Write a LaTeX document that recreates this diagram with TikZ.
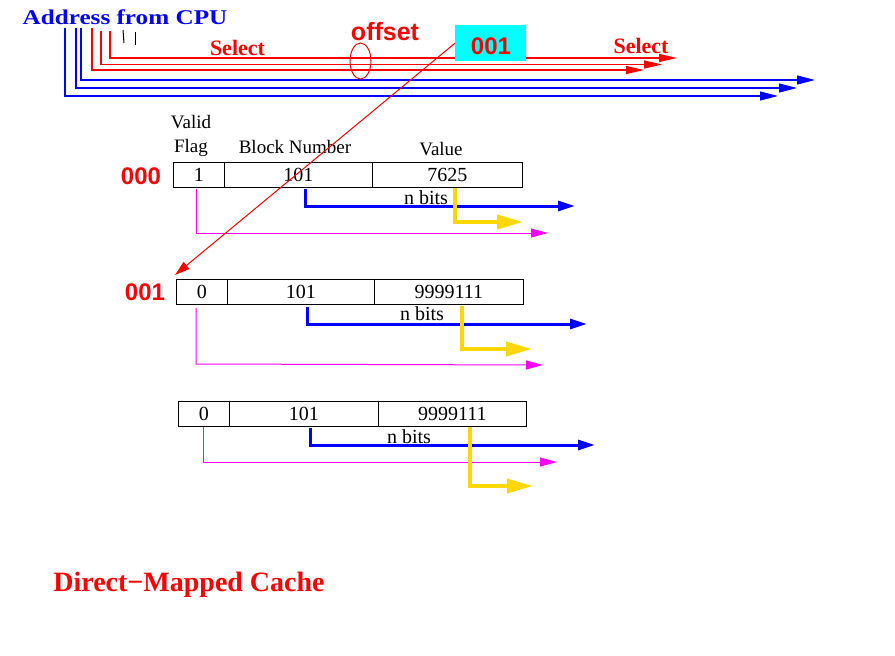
\documentclass[tikz,border=0pt]{standalone}
\usepackage{fontspec}
\setmainfont{Liberation Serif}
\newfontfamily\hvf{Liberation Sans}
\usetikzlibrary{arrows.meta,shapes.geometric}
\definecolor{xred}{RGB}{255,0,0}
\definecolor{xblue}{RGB}{0,0,255}
\definecolor{xmag}{RGB}{255,0,255}
\definecolor{xgold}{RGB}{255,215,0}
\definecolor{xcyan}{RGB}{0,255,255}
\begin{document}
\begin{tikzpicture}[x=1pt,y=-1pt,
  cell/.style={draw=black,line width=0.8pt,minimum height=25pt,inner sep=0pt,anchor=north west,font=\fontsize{20}{20}\selectfont},
  lbl/.style={anchor=base,inner sep=0pt,font=\fontsize{19}{19}\selectfont},
  boldserif/.style={anchor=base,inner sep=0pt,text=xred,font=\fontsize{22}{22}\selectfont\bfseries},
  sansred/.style={anchor=base,inner sep=0pt,text=xred,font=\fontsize{25}{25}\selectfont\hvf\bfseries},
  topred/.style={draw=xred,line width=1.3pt,-{Triangle[length=18pt,width=8pt]}},
  topblue/.style={draw=xblue,line width=1.3pt,-{Triangle[length=18pt,width=9pt]}},
  rowblue/.style={draw=xblue,line width=3pt,-{Triangle[length=17pt,width=10pt]}},
  rowmag/.style={draw=xmag,line width=1pt,-{Triangle[length=17pt,width=9pt]}},
  rowgold/.style={draw=xgold,line width=4pt,-{Triangle[length=26pt,width=14pt]}},
  tick/.style={draw=black,line width=1pt}]
\useasboundingbox (0,0) rectangle (895,656);

% ---------- top: address from CPU ----------
\node[anchor=base,inner sep=0pt,text=xblue,font=\fontsize{21}{21}\selectfont\bfseries] (addr) at (125,24) {\scalebox{1.2}[1]{Address from CPU}};

\coordinate (b1s) at (65,28);  \coordinate (b1e) at (778,96);
\coordinate (b2s) at (76,28);  \coordinate (b2e) at (797,88);
\coordinate (b3s) at (81,28);  \coordinate (b3e) at (815,80);
\coordinate (r1s) at (92,28);  \coordinate (r1e) at (644,70);
\coordinate (r2s) at (101,31); \coordinate (r2e) at (662,64.5);
\coordinate (r3s) at (110,31); \coordinate (r3e) at (677,58);
\coordinate (k1s) at (123,30); \coordinate (k1e) at (124,43);
\coordinate (k2s) at (135,32); \coordinate (k2e) at (135,45);

\draw[topblue] (b1s) |- (b1e);
\draw[topblue] (b2s) |- (b2e);
\draw[topblue] (b3s) |- (b3e);
\draw[topred] (r1s) |- (r1e);
\draw[topred] (r2s) |- (r2e);
\draw[topred] (r3s) |- (r3e);
\draw[tick] (k1s) -- (k1e);
\draw[tick] (k2s) -- (k2e);

\node[boldserif] (sel1) at (237.5,55) {Select};
\node[boldserif] (sel2) at (641,53) {Select};
\node[sansred] (offs) at (385,40) {offset};
\node[draw=xred,line width=1pt,ellipse,minimum width=21pt,minimum height=36pt,inner sep=0pt] (ell) at (360.5,61) {};
\node[fill=xcyan,minimum width=71pt,minimum height=36pt,inner sep=0pt,anchor=north west] (cbox) at (455,25) {};
\node[sansred,font=\fontsize{24}{24}\selectfont\hvf\bfseries] (idx) at (491,54) {001};

% ---------- row labels ----------
\node[lbl] (valid) at (191,128) {Valid};
\node[lbl] (flag) at (191,152) {Flag};
\node[lbl] (bnum) at (295,153) {Block Number};
\node[lbl] (valh) at (441,155) {Value};

\node[sansred,font=\fontsize{24}{24}\selectfont\hvf\bfseries] (l000) at (141,184) {000};
\node[sansred,font=\fontsize{24}{24}\selectfont\hvf\bfseries] (l001) at (145,300) {001};

% ---------- connectors of rows ----------
% row 1
\coordinate (m1s) at (196,189); \coordinate (m1e) at (548,233);
\coordinate (u1s) at (305,189); \coordinate (u1e) at (575,206);
\coordinate (g1s) at (455,187); \coordinate (g1e) at (523,222);
\draw[rowmag] (m1s) |- (m1e);
\draw[rowblue] (u1s) |- (u1e);
\node[lbl,font=\fontsize{20}{20}\selectfont] (nb1) at (426,204) {n bits};
\draw[rowgold] (g1s) |- (g1e);
% row 2
\coordinate (m2s) at (196,308); \coordinate (m2c) at (196,364); \coordinate (m2e) at (543,365);
\coordinate (u2s) at (307,307); \coordinate (u2e) at (587,324);
\coordinate (g2s) at (462,306); \coordinate (g2e) at (532,349);
\draw[rowmag] (m2s) -- (m2c) -- (m2e);
\draw[rowblue] (u2s) |- (u2e);
\node[lbl,font=\fontsize{20}{20}\selectfont] (nb2) at (422,320) {n bits};
\draw[rowgold] (g2s) |- (g2e);
% row 3
\coordinate (m3s) at (203,427); \coordinate (m3e) at (557,462);
\coordinate (u3s) at (310,428); \coordinate (u3e) at (595,445);
\coordinate (g3s) at (470,427); \coordinate (g3e) at (533,486);
\draw[rowmag] (m3s) |- (m3e);
\draw[rowblue] (u3s) |- (u3e);
\node[lbl,font=\fontsize{20}{20}\selectfont] (nb3) at (409,443) {n bits};
\draw[rowgold] (g3s) |- (g3e);

% ---------- cache rows ----------
\node[cell,minimum width=51pt] (r1a) at (173,162) {1};
\node[cell,minimum width=148pt] (r1b) at (224,162) {101};
\node[cell,minimum width=150pt] (r1c) at (372,162) {7625};

\node[cell,minimum width=51pt] (r2a) at (176,279) {0};
\node[cell,minimum width=147pt] (r2b) at (227,279) {101};
\node[cell,minimum width=149pt] (r2c) at (374,279) {9999111};

\node[cell,minimum width=51pt] (r3a) at (178,401) {0};
\node[cell,minimum width=149pt] (r3b) at (229,401) {101};
\node[cell,minimum width=148pt] (r3c) at (378,401) {9999111};

% ---------- index pointer ----------
\coordinate (ptr) at (175,275);
\draw[draw=xred,line width=1pt,-{Triangle[length=15pt,width=9pt]}] (cbox.west) -- (ptr);

% ---------- title ----------
\node[anchor=base,inner sep=0pt,text=xred,font=\fontsize{28}{28}\selectfont\bfseries] (title) at (189,591) {Direct−Mapped Cache};
\end{tikzpicture}
\end{document}
